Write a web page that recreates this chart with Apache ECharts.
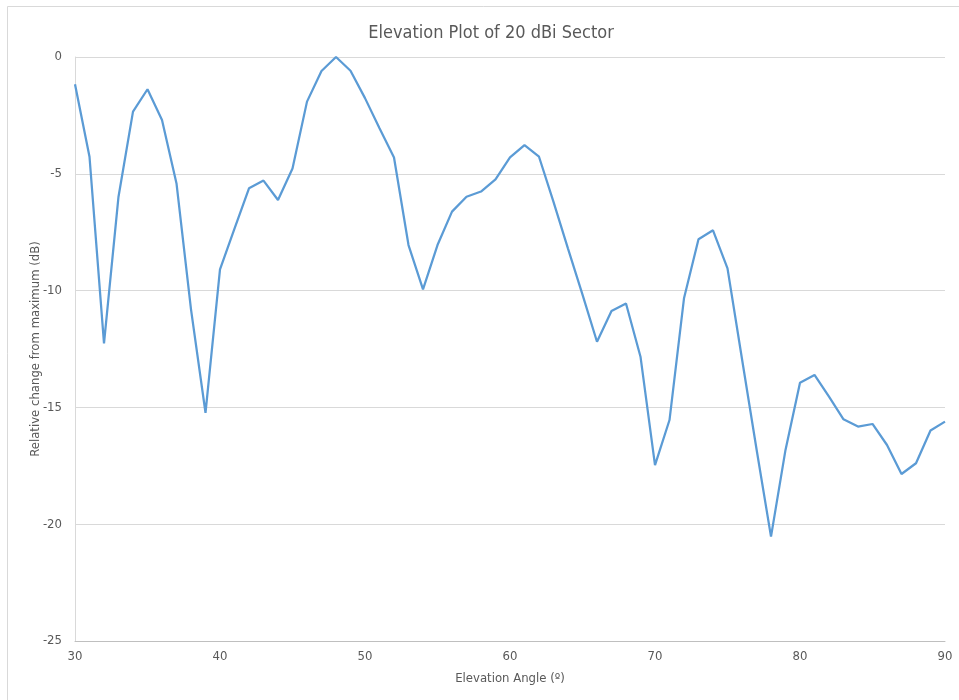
<!DOCTYPE html>
<html>
<head>
<meta charset="utf-8">
<script src="https://cdn.jsdelivr.net/npm/echarts@6/dist/echarts.min.js"></script>
<style>
  html, body { margin: 0; padding: 0; background: #ffffff; }
  #chart { width: 959px; height: 700px; }
</style>
</head>
<body>
<div id="chart"></div>
<script>
// Elevation angle in degrees (one sample per degree, 30..90)
const angles = [
  30, 31, 32, 33, 34, 35, 36, 37, 38, 39,
  40, 41, 42, 43, 44, 45, 46, 47, 48, 49,
  50, 51, 52, 53, 54, 55, 56, 57, 58, 59,
  60, 61, 62, 63, 64, 65, 66, 67, 68, 69,
  70, 71, 72, 73, 74, 75, 76, 77, 78, 79,
  80, 81, 82, 83, 84, 85, 86, 87, 88, 89, 90
];

// Relative gain change from the maximum, in dB
const relativeGain = [
  -1.17, -4.27, -12.26, -5.98, -2.34, -1.38, -2.70, -5.41, -10.8, -15.23,
  -9.09, -7.35, -5.62, -5.29, -6.12, -4.77, -1.91, -0.60, 0.0, -0.59,
  -1.76, -3.05, -4.30, -8.05, -9.95, -8.05, -6.62, -5.98, -5.76, -5.24,
  -4.30, -3.77, -4.27, -6.20, -8.20, -10.17, -12.19, -10.87, -10.55, -12.83,
  -17.47, -15.54, -10.33, -7.80, -7.42, -9.05, -12.93, -16.78, -20.53, -16.82,
  -13.94, -13.61, -14.54, -15.51, -15.82, -15.71, -16.61, -17.85, -17.39, -15.99, -15.61
];

const titleText = 'Elevation Plot of 20 dBi Sector';
const xName = 'Elevation Angle (º)';
const yName = 'Relative change from maximum (dB)';

const FONT = "'Liberation Sans Narrow', 'DejaVu Sans Condensed', 'Liberation Sans', sans-serif";
const TEXT_COLOR = '#595959';

const chart = echarts.init(document.getElementById('chart'), null, { renderer: 'canvas' });

chart.setOption({
  backgroundColor: '#ffffff',
  animation: false,
  textStyle: { fontFamily: FONT },
  title: {
    text: titleText,
    left: 486,
    textAlign: 'center',
    top: 19,
    textStyle: { fontFamily: FONT, fontSize: 18, fontWeight: 'normal', color: TEXT_COLOR }
  },
  graphic: [{
    type: 'rect',
    shape: { x: 7.5, y: 6.5, width: 1000, height: 1000 },
    style: { fill: 'none', stroke: '#d9d9d9', lineWidth: 1 },
    silent: true,
    z: -1
  }],
  grid: { left: 75, right: 14, top: 57, bottom: 59 },
  xAxis: {
    type: 'value',
    min: 30,
    max: 90,
    interval: 10,
    name: xName,
    nameLocation: 'middle',
    nameGap: 31,
    nameMoveOverlap: false,
    nameTextStyle: { fontFamily: FONT, fontSize: 13, color: TEXT_COLOR },
    axisLine: { show: true, onZero: false, lineStyle: { color: '#bfbfbf', width: 1 } },
    axisTick: { show: false },
    splitLine: { show: false },
    axisLabel: { fontFamily: FONT, fontSize: 13, color: TEXT_COLOR, margin: 9 }
  },
  yAxis: {
    type: 'value',
    min: -25,
    max: 0,
    interval: 5,
    name: yName,
    nameLocation: 'middle',
    nameGap: 33,
    nameMoveOverlap: false,
    nameTextStyle: { fontFamily: FONT, fontSize: 13, color: TEXT_COLOR },
    axisLine: { show: true, lineStyle: { color: '#d9d9d9', width: 1 } },
    axisTick: { show: false },
    splitLine: { show: true, lineStyle: { color: '#d9d9d9', width: 1 } },
    axisLabel: { fontFamily: FONT, fontSize: 13, color: TEXT_COLOR, margin: 13 }
  },
  series: [{
    type: 'line',
    data: angles.map((a, i) => [a, relativeGain[i]]),
    showSymbol: false,
    smooth: false,
    lineStyle: { color: '#5b9bd5', width: 2.25 },
    itemStyle: { color: '#5b9bd5' }
  }]
});
</script>
</body>
</html>
